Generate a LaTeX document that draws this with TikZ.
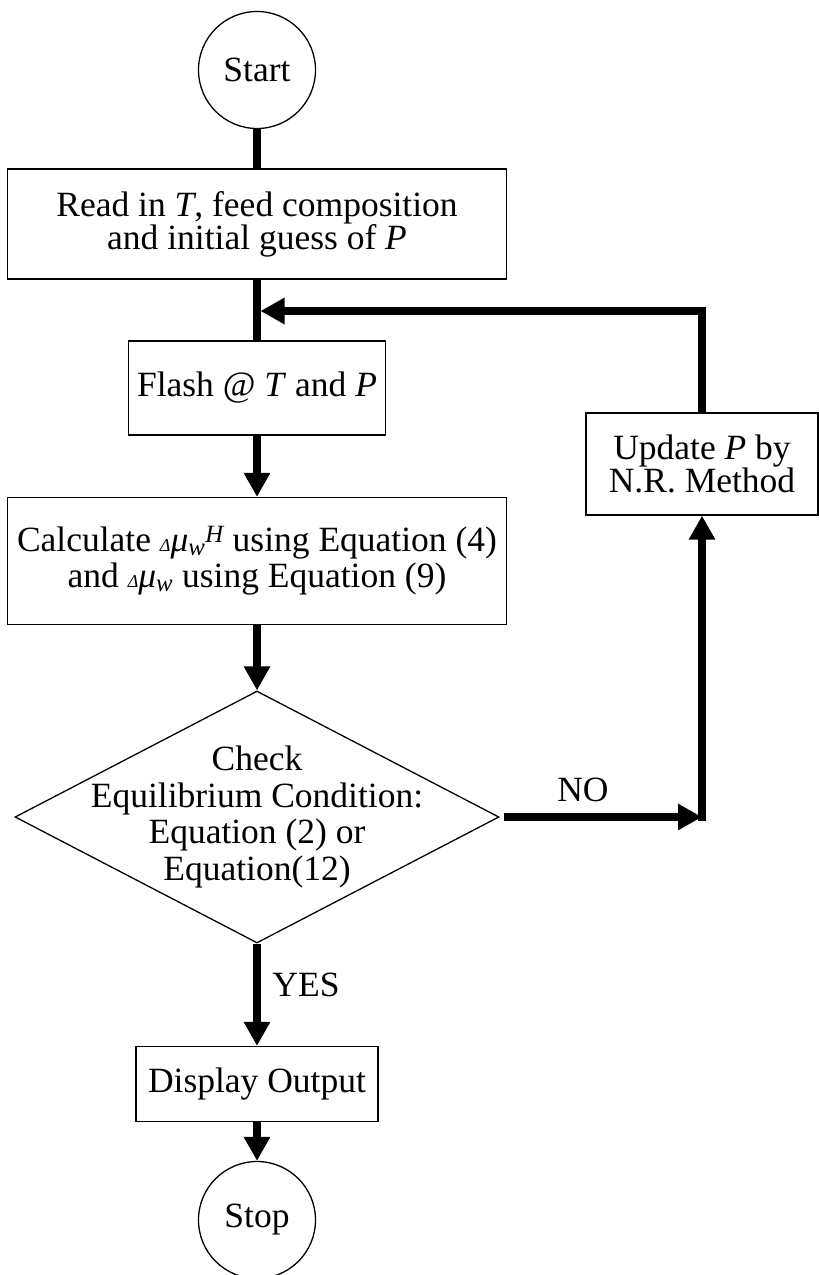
\documentclass[tikz,border=0pt]{standalone}
\usepackage{fontspec}
\setmainfont{Liberation Serif}
\usetikzlibrary{shapes.geometric,arrows.meta}
\newcommand{\dmuw}{{\fontsize{18}{18}\selectfont\itshape Δ}{\itshape μ}\textsubscript{\itshape w}}
\begin{document}
\begin{tikzpicture}[x=1pt,y=-1pt,
  txt/.style={font=\fontsize{35.5}{33}\selectfont},
  box/.style={draw,line width=1.3pt,rectangle,inner sep=0pt,align=center,txt},
  term/.style={draw,line width=1.3pt,circle,inner sep=0pt,minimum size=117pt,txt},
  conn/.style={line width=7.5pt},
  arr/.style={line width=7.5pt,-{Triangle[length=24pt,width=25pt]}}]
\useasboundingbox[fill=white] (0,0) rectangle (819,1275);
% nodes
\node[term] (start) at (257,70) {Start};
\node[box,minimum width=499pt,minimum height=110pt] (read) at (257,224)
  {Read in \textit{T}, feed composition\\and initial guess of \textit{P}};
\node[box,minimum width=257pt,minimum height=94pt] (flash) at (257,388)
  {Flash @ \textit{T} and \textit{P}};
\node[box,minimum width=499pt,minimum height=127pt,font=\fontsize{35.5}{36}\selectfont] (calc) at (257,561)
  {Calculate \dmuw\textsuperscript{\itshape H} using Equation (4)\\and \dmuw{} using Equation (9)};
\node[draw,diamond,line width=1.3pt,inner sep=0pt,minimum width=484pt,minimum height=252pt] (dia) at (257,817) {};
\node[align=center,font=\fontsize{35.5}{36.5}\selectfont] (diat) at (dia.center)
  {Check\\Equilibrium Condition:\\Equation (2) or\\Equation(12)};
\node[box,minimum width=242pt,minimum height=75pt] (disp) at (257,1084) {Display Output};
\node[term] (stop) at (257,1220) {Stop};
\node[box,minimum width=232pt,minimum height=102pt] (upd) at (702,464)
  {Update \textit{P} by\\N.R. Method};
\coordinate (merge) at (257,311);
\coordinate (corner) at (702,817);
% labels
\node[txt] (no) at (583,790) {NO};
\node[txt] (yes) at (306,985) {YES};
% connectors
\draw[conn] (start) -- (read);
\draw[conn] (read) -- (flash);
\draw[arr] (flash) -- (calc);
\draw[arr] (calc) -- (dia.north);
\draw[arr] (dia.south) -- (disp);
\draw[arr] (disp) -- (stop);
\draw[arr,shorten <=4pt] (dia.east) -- (corner);
\draw[arr,shorten <=-4pt] (corner) -- (upd.south);
\draw[arr,shorten >=3.5pt] (upd.north) |- (merge);
\end{tikzpicture}
\end{document}
